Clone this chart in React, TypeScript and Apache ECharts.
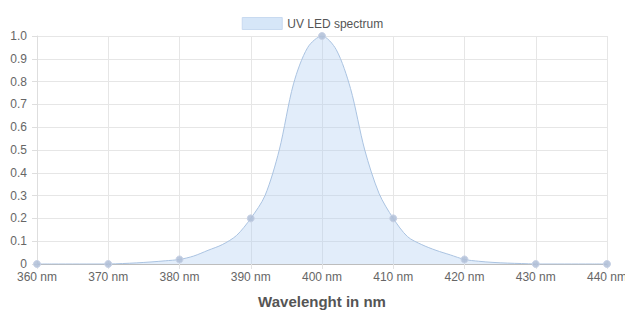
import React, { useEffect, useRef } from "react";
import * as echarts from "echarts";

const seriesName = "UV LED spectrum";
const xAxisTitle = "Wavelenght in nm";
const wavelengths = [
  360, 362, 364, 366, 368, 370, 372, 374, 376, 378, 380, 382, 384, 386, 388, 390,
  392, 394, 396, 398, 400, 402, 404, 406, 408, 410, 412, 414, 416, 418, 420, 422,
  424, 426, 428, 430, 432, 434, 436, 438, 440,
];
const intensity = [
  0, 0, 0, 0, 0, 0, 0.002, 0.005, 0.009, 0.014, 0.02, 0.035, 0.06, 0.085, 0.125, 0.2,
  0.3, 0.5, 0.79, 0.95, 1.0, 0.94, 0.77, 0.5, 0.31, 0.2, 0.12, 0.085, 0.06, 0.04, 0.02, 0.012,
  0.007, 0.004, 0.002, 0, 0, 0, 0, 0, 0,
];
const markedWavelengths = [360, 370, 380, 390, 400, 410, 420, 430, 440];

export default function App() {
  const ref = useRef<HTMLDivElement>(null);
  useEffect(() => {
    if (!ref.current) return;
    const chart = echarts.init(ref.current, undefined, { renderer: "svg" });
    const font = "'Liberation Sans', Arial, Helvetica, sans-serif";
    const data = wavelengths.map((w, i) =>
      markedWavelengths.includes(w)
        ? { value: [w, intensity[i]] }
        : { value: [w, intensity[i]], symbol: "none" }
    );
    chart.setOption({
      animation: false,
      textStyle: { fontFamily: font },
      legend: {
        top: 12,
        left: "center",
        itemWidth: 40,
        itemHeight: 12,
        itemGap: 8,
        textStyle: { color: "#555", fontSize: 12, fontFamily: font },
        data: [
          {
            name: seriesName,
            icon: "rect",
            itemStyle: { color: "#d6e6f8", borderColor: "#c8daf0", borderWidth: 1 },
          },
        ],
      },
      grid: { left: 37, right: 18, top: 36, bottom: 46, containLabel: false, outerBoundsMode: "none" },
      xAxis: {
        type: "value",
        min: 360,
        max: 440,
        interval: 10,
        name: xAxisTitle,
        nameLocation: "middle",
        nameGap: 30,
        nameTextStyle: { color: "#555", fontSize: 15, fontWeight: "bold", fontFamily: font },
        axisLine: { show: true, lineStyle: { color: "#bdbdbd", width: 1 } },
        axisTick: { show: true, length: 5, lineStyle: { color: "#e3e3e3" } },
        axisLabel: {
          color: "#666",
          fontSize: 12,
          margin: 7,
          fontFamily: font,
          formatter: (v: number) => `${v} nm`,
        },
        splitLine: { show: true, lineStyle: { color: "#e6e6e6", width: 1 } },
      },
      yAxis: {
        type: "value",
        min: 0,
        max: 1,
        interval: 0.1,
        axisLine: { show: true, lineStyle: { color: "#dedede", width: 1 } },
        axisTick: { show: true, length: 5, lineStyle: { color: "#dedede" } },
        axisLabel: {
          color: "#666",
          fontSize: 12,
          margin: 10,
          fontFamily: font,
          formatter: (v: number) => (v === 0 ? "0" : v.toFixed(1)),
        },
        splitLine: { show: true, lineStyle: { color: "#e6e6e6", width: 1 } },
      },
      series: [
        {
          name: seriesName,
          type: "line",
          smooth: 0.3,
          data,
          symbol: "circle",
          symbolSize: 7,
          showSymbol: true,
          showAllSymbol: true,
          itemStyle: { color: "rgba(175,190,215,0.85)", borderColor: "rgba(200,210,230,1)", borderWidth: 1 },
          lineStyle: { color: "rgba(170,195,225,1)", width: 1 },
          areaStyle: { color: "rgba(172,204,240,0.5)", origin: "start" },
          z: 3,
        },
      ],
    });
    return () => chart.dispose();
  }, []);
  return (
    <div
      ref={ref}
      style={{ position: "fixed", left: 0, top: 0, width: 625, height: 310, background: "#fff" }}
    />
  );
}
